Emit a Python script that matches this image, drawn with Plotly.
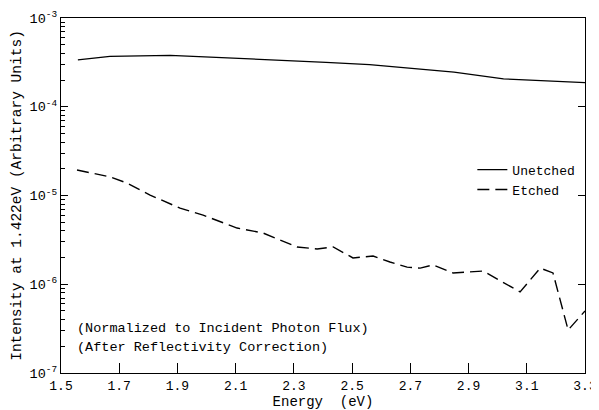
import plotly.graph_objects as go

unetched_e = [1.558, 1.668, 1.875, 2.00, 2.18, 2.29, 2.41, 2.56, 2.85, 3.02, 3.19, 3.30]
unetched_v = [3.37e-4, 3.70e-4, 3.80e-4, 3.64e-4, 3.48e-4, 3.29e-4, 3.17e-4, 2.99e-4, 2.46e-4, 2.06e-4, 1.95e-4, 1.87e-4]

etched_e = [1.555, 1.668, 1.727, 1.806, 1.909, 1.988, 2.105, 2.194, 2.311, 2.38, 2.435,
            2.503, 2.572, 2.63, 2.689, 2.734, 2.778, 2.847, 2.95, 3.077, 3.146, 3.19, 3.242, 3.30]
etched_v = [1.94e-5, 1.62e-5, 1.38e-5, 1.01e-5, 7.2e-6, 6.0e-6, 4.3e-6, 3.78e-6, 2.63e-6, 2.5e-6, 2.63e-6,
            1.98e-6, 2.08e-6, 1.78e-6, 1.56e-6, 1.52e-6, 1.65e-6, 1.34e-6, 1.41e-6, 8.2e-7, 1.52e-6, 1.34e-6, 3.05e-7, 5.0e-7]

x_ticks = [1.5, 1.7, 1.9, 2.1, 2.3, 2.5, 2.7, 2.9, 3.1, 3.3]
y_ticks = [1e-7, 1e-6, 1e-5, 1e-4, 1e-3]
y_ticktext = ["10<sup>-7</sup>", "10<sup>-6</sup>", "10<sup>-5</sup>", "10<sup>-4</sup>", "10<sup>-3</sup>"]
y_minor = [m * d for d in [1e-7, 1e-6, 1e-5, 1e-4] for m in range(2, 10)]

FONT = "Liberation Mono"

fig = go.Figure()
fig.add_trace(go.Scatter(x=unetched_e, y=unetched_v, mode="lines", name="Unetched",
                         line=dict(color="black", width=1.3)))
fig.add_trace(go.Scatter(x=etched_e, y=etched_v, mode="lines", name="Etched",
                         line=dict(color="black", width=1.4, dash="12px,6px")))
# right axis ticks (decades only)
fig.add_trace(go.Scatter(x=[None], y=[None], yaxis="y2", showlegend=False))

fig.update_layout(
    width=591, height=402,
    margin=dict(l=53, r=14, t=10, b=37),
    paper_bgcolor="white", plot_bgcolor="white",
    font=dict(family=FONT, size=13, color="black"),
    showlegend=True,
    legend=dict(x=0.785, y=0.615, xanchor="left", yanchor="top",
                bgcolor="rgba(0,0,0,0)", font=dict(family=FONT, size=13),
                itemwidth=30, tracegroupgap=2),
    xaxis=dict(range=[1.5, 3.3], tickvals=x_ticks, ticktext=[f"{v:.1f}" for v in x_ticks],
               ticks="inside", ticklen=10, tickwidth=1.2, tickcolor="black",
               showline=True, linecolor="black", linewidth=1.4, mirror=True,
               showgrid=False, zeroline=False, automargin=False,
               title=dict(text="Energy  (eV)", font=dict(family=FONT, size=14), standoff=2),
               tickfont=dict(family=FONT, size=13)),
    yaxis=dict(type="log", range=[-7, -3], tickvals=y_ticks, ticktext=y_ticktext,
               ticks="inside", ticklen=7, tickwidth=1.2, tickcolor="black",
               minor=dict(tickvals=y_minor, ticks="inside", ticklen=4, tickwidth=1,
                          tickcolor="black", showgrid=False),
               showline=True, linecolor="black", linewidth=1.4, mirror=True,
               showgrid=False, zeroline=False, automargin=False,
               title=dict(text="Intensity at 1.422eV (Arbitrary Units)",
                          font=dict(family=FONT, size=14.5), standoff=4),
               tickfont=dict(family=FONT, size=13.5)),
    yaxis2=dict(type="log", range=[-7, -3], overlaying="y", side="right",
                tickvals=y_ticks, showticklabels=False, automargin=False,
                ticks="inside", ticklen=7, tickwidth=1.2, tickcolor="black",
                showgrid=False, zeroline=False, showline=False),
)

fig.add_annotation(x=0.026, y=0.125, xref="paper", yref="paper",
                   text="(Normalized to Incident Photon Flux)", showarrow=False,
                   xanchor="left", yanchor="middle", font=dict(family=FONT, size=13.5))
fig.add_annotation(x=0.026, y=0.071, xref="paper", yref="paper",
                   text="(After Reflectivity Correction)", showarrow=False,
                   xanchor="left", yanchor="middle", font=dict(family=FONT, size=13.5))

fig.write_html("out.html")
